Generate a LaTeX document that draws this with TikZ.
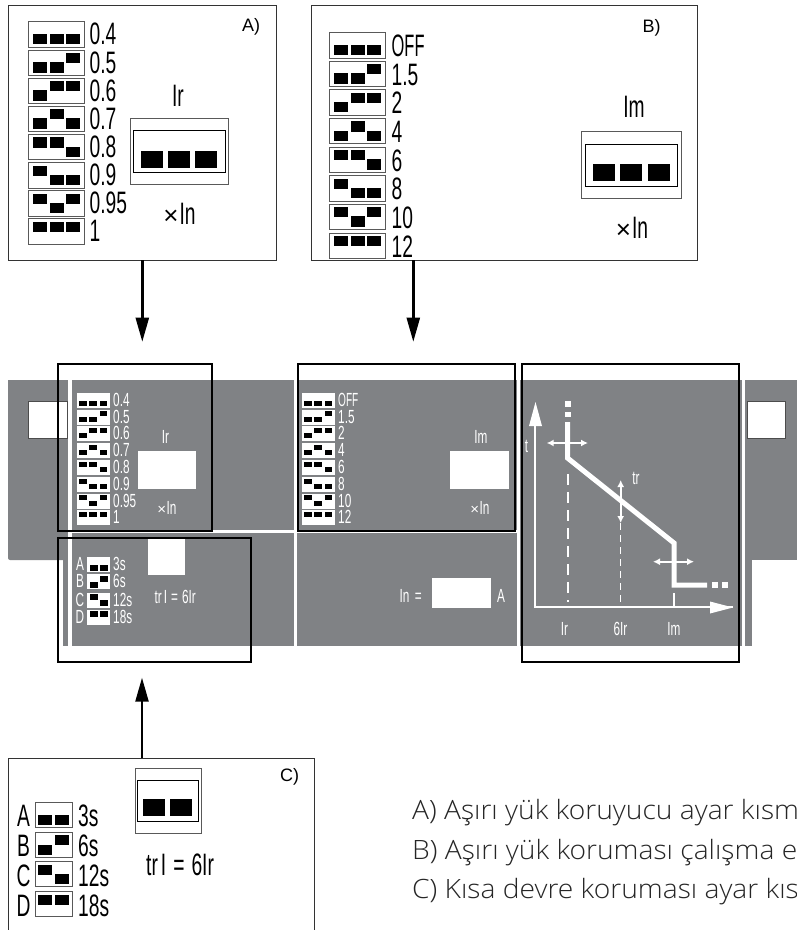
\documentclass[tikz,border=0pt]{standalone}
\usepackage{fontspec}
\setmainfont{Liberation Sans}
\newfontfamily\nar[FakeStretch=0.62]{Liberation Sans}
\newfontfamily\nan[FakeStretch=0.53]{Liberation Sans}
\newfontfamily\lite[FakeStretch=1.06]{Open Sans Light}
\usetikzlibrary{arrows.meta}
\definecolor{band}{HTML}{808285}
\newcommand{\sbig}{\nar\fontsize{31}{31}\selectfont}
\newcommand{\ssmall}{\nar\fontsize{19}{19}\selectfont}
\newcommand{\Inb}{{\fontspec{Liberation Sans}\fontsize{26}{26}\selectfont ×}\hspace{1pt}In}
\newcommand{\Ins}{{\fontspec{Liberation Sans}\fontsize{15}{15}\selectfont ×}\hspace{.5pt}In}
\tikzset{
 panel/.style={draw=black!80,line width=.9pt,fill=white},
 swbox/.style={draw=black!65,line width=.9pt,fill=white},
 blk/.style={fill=black},
 frame/.style={draw=black,line width=2pt},
 lbl/.style={anchor=base west,inner sep=0pt,text=black},
 lblw/.style={anchor=base west,inner sep=0pt,text=white},
 lblc/.style={anchor=base,inner sep=0pt,text=white},
 lblk/.style={anchor=base,inner sep=0pt,text=black},
 wln/.style={draw=white,line width=2.6pt},
 arr/.style={draw=white,line width=1.6pt,{Latex[length=7pt,width=7pt]}-{Latex[length=7pt,width=7pt]}},
 bigarr/.style={black,line width=2.4pt,-{Triangle[length=24pt,width=13pt]}},
 legend/.style={anchor=base west,inner sep=0pt,text=black!85,font=\lite\fontsize{26.6}{26.6}\selectfont},
 tag/.style={anchor=base west,inner sep=0pt,text=black,font=\fontsize{18}{18}\selectfont},
}
\newcommand{\rc}[7]{%
 \ifnum#3=1\relax
  \fill[blk] (#1,#2+#4) rectangle ++(#6,#7);
 \else
  \fill[blk] (#1,#2+#5) rectangle ++(#6,#7);
 \fi}
\newcommand{\bigsw}[5]{% x top a b c
 \draw[swbox] (#1,#2) rectangle ++(55.5,25.5);
 \rc{#1+4.5}{#2}{#3}{3}{12.3}{14}{10.3}
 \rc{#1+21.1}{#2}{#4}{3}{12.3}{14}{10.3}
 \rc{#1+37.7}{#2}{#5}{3}{12.3}{14}{10.3}}
\newcommand{\twosw}[4]{%
 \draw[swbox] (#1,#2) rectangle ++(37.5,25);
 \rc{#1+3}{#2}{#3}{3}{12.5}{14}{10}
 \rc{#1+20}{#2}{#4}{3}{12.5}{14}{10}}
\newcommand{\smsw}[5]{%
 \fill[white] (#1,#2) rectangle ++(33,15);
 \rc{#1+2.3}{#2}{#3}{1.6}{7.3}{7.8}{5}
 \rc{#1+12.4}{#2}{#4}{1.6}{7.3}{7.8}{5}
 \rc{#1+22.5}{#2}{#5}{1.6}{7.3}{7.8}{5}}
\newcommand{\smtwo}[4]{%
 \fill[white] (#1,#2) rectangle ++(23,15);
 \rc{#1+3}{#2}{#3}{1.8}{7.5}{8}{6}
 \rc{#1+13}{#2}{#4}{1.8}{7.5}{8}{6}}
\begin{document}
\begin{tikzpicture}[x=1pt,y=-1pt]
\useasboundingbox (0,0) rectangle (797,930);
\clip (0,0) rectangle (797,930);
\fill[white] (0,0) rectangle (797,930);

% --- gray band
\fill[band,rounded corners=2pt] (8,380) rectangle (100,560);
\fill[band] (8,380) rectangle (797,500);
\fill[band] (60,380) rectangle (797,560);
\fill[band] (63,380) rectangle (752,646);
\draw[wln,line width=3.6pt] (70,380) -- (70,646);
\draw[wln] (295.5,380) -- (295.5,646);
\draw[wln] (518.5,380) -- (518.5,646);
\draw[wln] (743.5,380) -- (743.5,646);
\draw[wln] (71,531.5) -- (518,531.5);
\fill[white,draw=black!70,line width=.5pt] (28,401.5) rectangle (67,438.5);
\fill[white,draw=black!70,line width=.5pt] (747,401.5) rectangle (785,438.5);

% --- white windows
\fill[white] (137.5,451) rectangle (195.5,489);
\fill[white] (450,451) rectangle (508.7,489);
\fill[white] (148,539) rectangle (185,575);
\fill[white] (432,578) rectangle (491,608);

% --- in-band switches
\foreach \yy/\pa/\pb/\pc/\txt in {393.3/0/0/0/0.4,409.5/0/0/1/0.5,426/0/1/1/0.6,443/0/1/0/0.7,460/1/1/0/0.8,477/1/0/0/0.9,493.7/1/0/1/0.95,510/1/1/1/1}{
 \smsw{77}{\yy}{\pa}{\pb}{\pc}
 \node[lblw,font=\ssmall] at (113,\yy+13.5) {\txt};
}
\foreach \yy/\pa/\pb/\pc/\txt in {393.3/0/0/0/{\nan OFF},409.5/0/0/1/1.5,426/0/1/1/2,443/0/1/0/4,460/1/1/0/6,477/1/0/0/8,493.7/1/0/1/10,510/1/1/1/12}{
 \smsw{302}{\yy}{\pa}{\pb}{\pc}
 \node[lblw,font=\ssmall] at (338,\yy+13.5) {\txt};
}
\foreach \yy/\pa/\pb/\txt/\ltr in {557/0/0/3s/A,574/0/1/6s/B,592.5/1/0/12s/C,609.5/1/1/18s/D}{
 \smtwo{87}{\yy}{\pa}{\pb}
 \node[lblw,font=\ssmall] at (113,\yy+13.5) {\txt};
 \node[lblc,font=\ssmall] at (80,\yy+13.5) {\ltr};
}
\node[lblc,font=\ssmall] at (165.5,443) {Ir};
\node[lblc,font=\ssmall] at (167,514) {\Ins};
\node[lblc,font=\ssmall] at (481,443) {Im};
\node[lblc,font=\ssmall] at (480,514) {\Ins};
\node[lblw,font=\ssmall] at (154.5,603) {tr\hspace{2pt}I\hspace{4pt}=\hspace{4pt}6Ir};
\node[lblw,font=\ssmall] at (399.5,602) {In\hspace{2pt} =};
\node[lblw,font=\ssmall] at (497,602) {A};

% --- chart
\draw[white,line width=2.4pt] (733,607) -- (535,607) -- (535,420);
\fill[white] (535.5,402) -- (542,426) -- (529,426) -- cycle;
\fill[white] (733,607.5) -- (710,613.5) -- (710,601.5) -- cycle;
\draw[white,line width=5pt,line join=miter] (567.5,422) -- (567.5,458) -- (674,543) -- (674,585) -- (707,585);
\fill[white] (565,400.7) rectangle (570.5,406.7);
\fill[white] (565,411.5) rectangle (570.5,417);
\fill[white] (711.7,582.3) rectangle (717.5,587.5);
\fill[white] (721.7,582.3) rectangle (727.7,587.5);
\draw[arr] (546.7,443) -- (588,443);
\draw[arr] (620.7,480) -- (620.7,523);
\draw[arr] (653,561.7) -- (694,561.7);
\draw[white,line width=2pt,dash pattern=on 11pt off 7pt] (567.5,474) -- (567.5,602);
\draw[white,line width=1.2pt,dash pattern=on 7pt off 5pt] (620.7,523) -- (620.7,606);
\draw[white,line width=1.2pt] (674,593) -- (674,606);
\node[lblc,font=\ssmall] at (526.5,452) {t};
\node[lblc,font=\ssmall] at (636,484) {tr};
\node[lblc,font=\ssmall] at (564.5,635) {Ir};
\node[lblc,font=\ssmall] at (620.5,635) {6Ir};
\node[lblc,font=\ssmall] at (674,635) {Im};

% --- frames
\draw[frame] (58,364) rectangle (212,531);
\draw[frame] (58,538) rectangle (251,662);
\draw[frame] (298,364) rectangle (515,531);
\draw[frame] (522,364) rectangle (739,662);

% --- Panel A
\draw[panel] (8,5) rectangle (276,260);
\foreach \yy/\pa/\pb/\pc/\txt in {21.7/0/0/0/0.4,50/0/0/1/0.5,78/0/1/1/0.6,106/0/1/0/0.7,134.3/1/1/0/0.8,162.5/1/0/0/0.9,190.5/1/0/1/0.95,218.7/1/1/1/1}{
 \bigsw{28.7}{\yy}{\pa}{\pb}{\pc}
 \node[lbl,font=\sbig] at (89.5,\yy+23) {\txt};
}
\draw[swbox] (130,118.5) rectangle (228,184);
\draw[draw=black,line width=.8pt] (133,130) rectangle (225,172);
\fill[blk] (141,151) rectangle (163,168);
\fill[blk] (168,151) rectangle (190,168);
\fill[blk] (195,151) rectangle (217,168);
\node[lblk,font=\sbig] at (178,106) {Ir};
\node[lblk,font=\sbig] at (179.5,224) {\Inb};
\node[tag] at (242,31.7) {A)};

% --- Panel B
\draw[panel] (311,5) rectangle (697,260);
\foreach \yy/\pa/\pb/\pc/\txt in {32.5/0/0/0/{\nan OFF},61/0/0/1/1.5,89.5/0/1/1/2,118.3/0/1/0/4,147/1/1/0/6,175.5/1/0/0/8,204/1/0/1/10,233/1/1/1/12}{
 \bigsw{329.5}{\yy}{\pa}{\pb}{\pc}
 \node[lbl,font=\sbig] at (391.5,\yy+24) {\txt};
}
\draw[swbox] (581,131) rectangle (681.7,198);
\draw[draw=black,line width=.8pt] (585,144) rectangle (677.5,186);
\fill[blk] (593,164) rectangle (615,181);
\fill[blk] (620,164) rectangle (642,181);
\fill[blk] (648,164) rectangle (670,181);
\node[lblk,font=\sbig] at (634,117.5) {Im};
\node[lblk,font=\sbig] at (632,238) {\Inb};
\node[tag] at (642.5,32) {B)};

% --- Panel C
\draw[panel] (8,931) -- (8,758) -- (314,758) -- (314,931);
\foreach \yy/\pa/\pb/\txt/\ltr in {802/0/0/3s/A,832/0/1/6s/B,861.7/1/0/12s/C,891.7/1/1/18s/D}{
 \twosw{35}{\yy}{\pa}{\pb}
 \node[lbl,font=\sbig] at (78,\yy+24.7) {\txt};
 \node[lblk,font=\sbig] at (23.5,\yy+24.7) {\ltr};
}
\draw[swbox] (135,768) rectangle (201,833);
\draw[draw=black,line width=.8pt] (137.5,780) rectangle (198.5,821);
\fill[blk] (143,799) rectangle (165,816);
\fill[blk] (170,799) rectangle (192,816);
\node[lbl,font=\sbig] at (146,875) {tr\hspace{3pt}I\hspace{7pt}=\hspace{7pt}6Ir};
\node[tag] at (280,781.7) {C)};

% --- arrows
\coordinate (aa) at (142.3,260); \coordinate (ab) at (142.3,341.7);
\coordinate (ba) at (413.3,260); \coordinate (bb) at (413.3,341.7);
\coordinate (ca) at (142,758); \coordinate (cb) at (142,677.7);
\draw[bigarr] (aa) -- (ab);
\draw[bigarr] (ba) -- (bb);
\draw[bigarr] (ca) -- (cb);

% --- legend
\node[legend] at (412,819.3) {A) Aşırı yük koruyucu ayar kısm};
\node[legend] at (412,859) {B) Aşırı yük koruması çalışma e};
\node[legend] at (412,898) {C) Kısa devre koruması ayar kıs};
\end{tikzpicture}
\end{document}
